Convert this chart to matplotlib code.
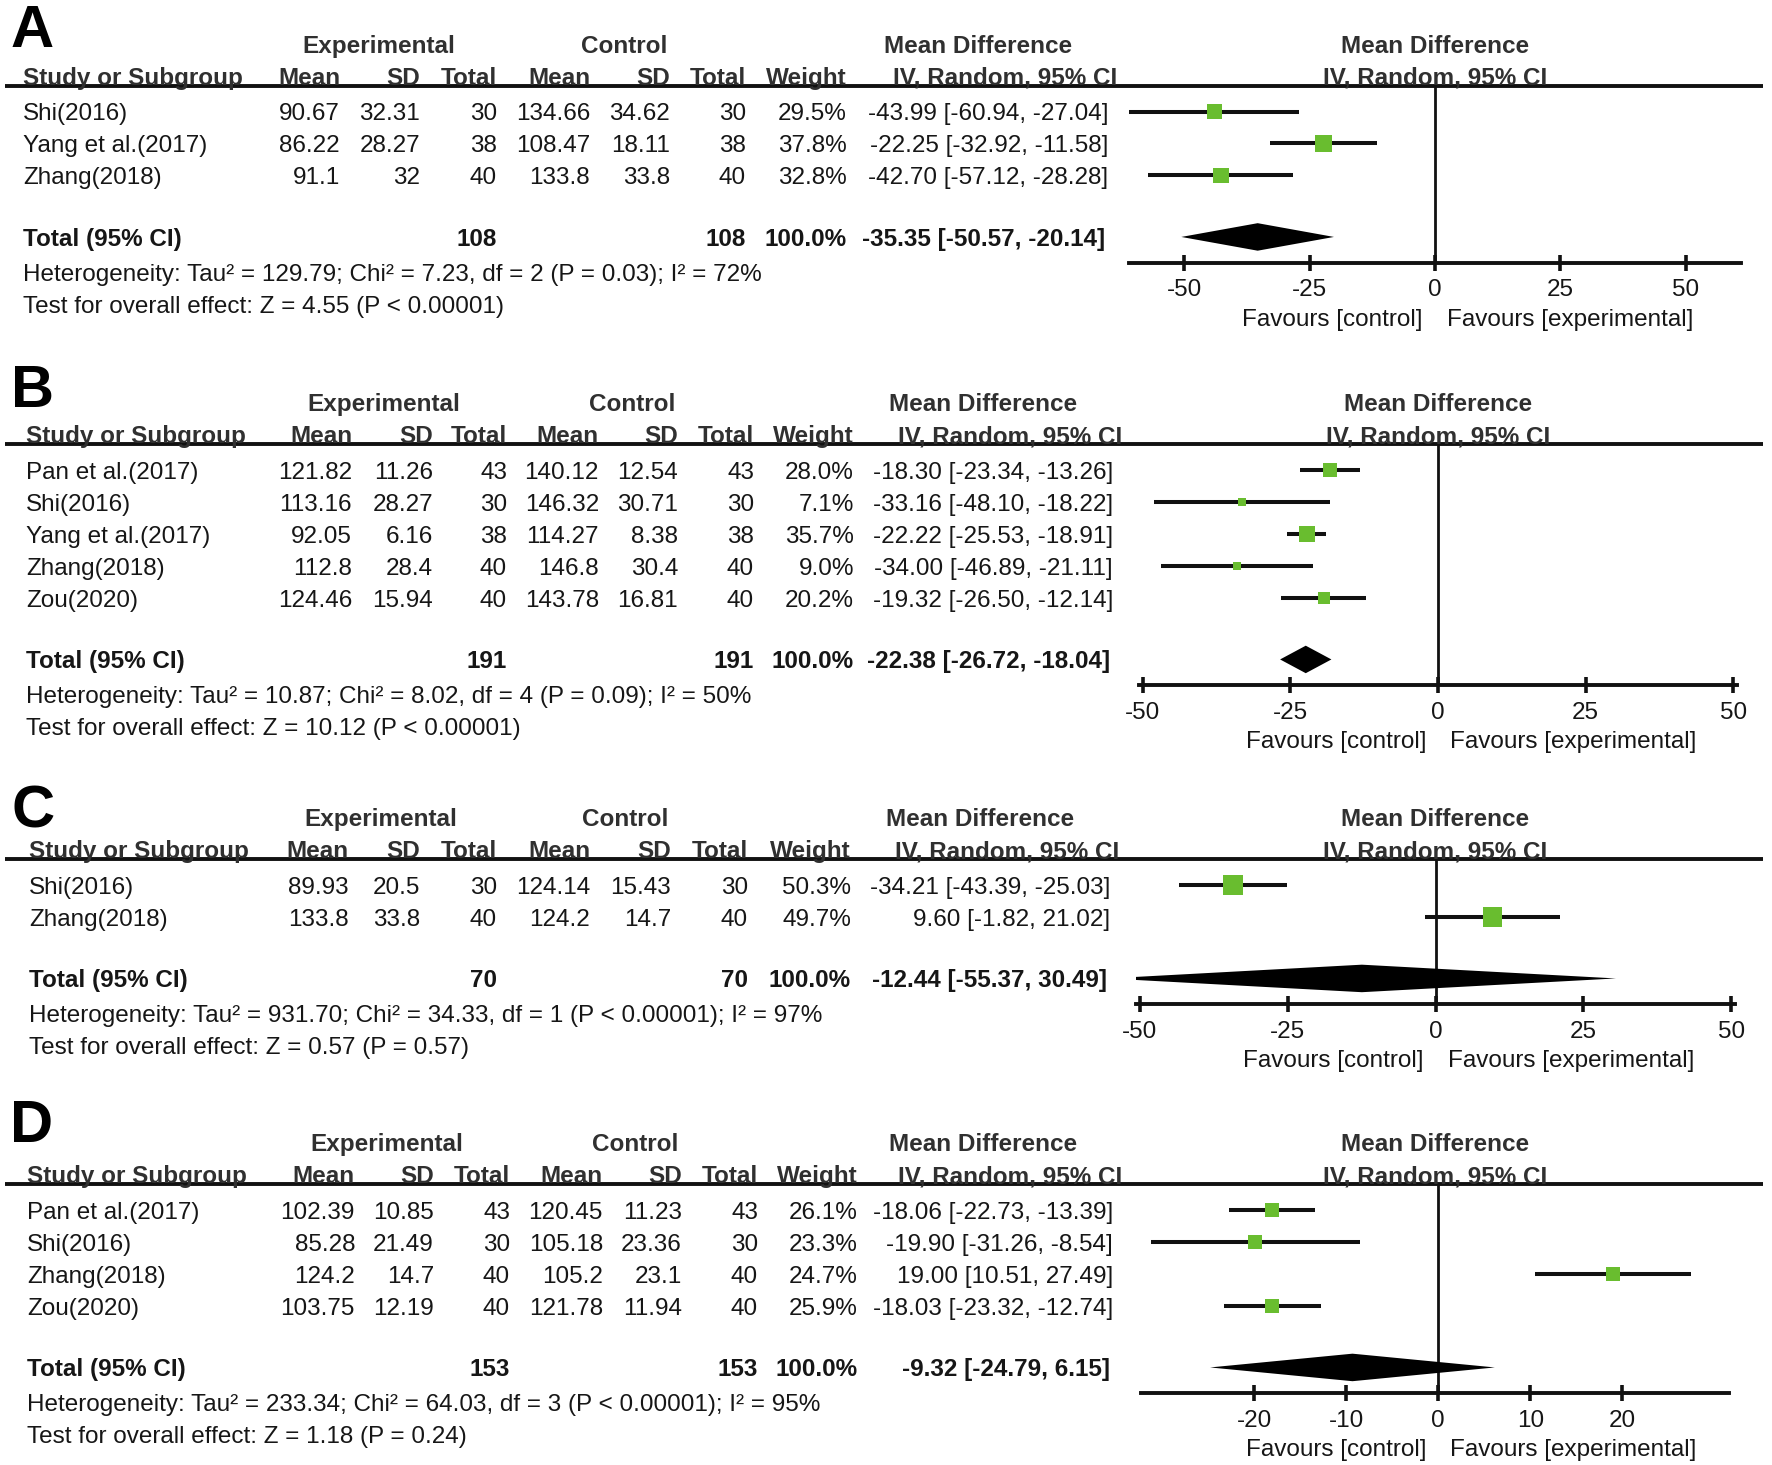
import matplotlib
matplotlib.use("Agg")
import matplotlib.pyplot as plt
from matplotlib.transforms import blended_transform_factory, offset_copy

plt.rcParams['font.family'] = ['Liberation Sans', 'DejaVu Sans']
plt.rcParams['axes.unicode_minus'] = False

# ---------------- data ----------------
# Panel A
studies_A = ["Shi(2016)", "Yang et al.(2017)", "Zhang(2018)"]
exp_mean_A = [90.67, 86.22, 91.1]
exp_sd_A = [32.31, 28.27, 32]
exp_n_A = [30, 38, 40]
ctl_mean_A = [134.66, 108.47, 133.8]
ctl_sd_A = [34.62, 18.11, 33.8]
ctl_n_A = [30, 38, 40]
weight_A = [29.5, 37.8, 32.8]
md_A = [-43.99, -22.25, -42.70]
lo_A = [-60.94, -32.92, -57.12]
hi_A = [-27.04, -11.58, -28.28]
total_A = [108, 108, -35.35, -50.57, -20.14]
het_A = "Heterogeneity: Tau² = 129.79; Chi² = 7.23, df = 2 (P = 0.03); I² = 72%"
test_A = "Test for overall effect: Z = 4.55 (P < 0.00001)"
ticks_A = [-50, -25, 0, 25, 50]

# Panel B
studies_B = ["Pan et al.(2017)", "Shi(2016)", "Yang et al.(2017)", "Zhang(2018)", "Zou(2020)"]
exp_mean_B = [121.82, 113.16, 92.05, 112.8, 124.46]
exp_sd_B = [11.26, 28.27, 6.16, 28.4, 15.94]
exp_n_B = [43, 30, 38, 40, 40]
ctl_mean_B = [140.12, 146.32, 114.27, 146.8, 143.78]
ctl_sd_B = [12.54, 30.71, 8.38, 30.4, 16.81]
ctl_n_B = [43, 30, 38, 40, 40]
weight_B = [28.0, 7.1, 35.7, 9.0, 20.2]
md_B = [-18.30, -33.16, -22.22, -34.00, -19.32]
lo_B = [-23.34, -48.10, -25.53, -46.89, -26.50]
hi_B = [-13.26, -18.22, -18.91, -21.11, -12.14]
total_B = [191, 191, -22.38, -26.72, -18.04]
het_B = "Heterogeneity: Tau² = 10.87; Chi² = 8.02, df = 4 (P = 0.09); I² = 50%"
test_B = "Test for overall effect: Z = 10.12 (P < 0.00001)"
ticks_B = [-50, -25, 0, 25, 50]

# Panel C
studies_C = ["Shi(2016)", "Zhang(2018)"]
exp_mean_C = [89.93, 133.8]
exp_sd_C = [20.5, 33.8]
exp_n_C = [30, 40]
ctl_mean_C = [124.14, 124.2]
ctl_sd_C = [15.43, 14.7]
ctl_n_C = [30, 40]
weight_C = [50.3, 49.7]
md_C = [-34.21, 9.60]
lo_C = [-43.39, -1.82]
hi_C = [-25.03, 21.02]
total_C = [70, 70, -12.44, -55.37, 30.49]
het_C = "Heterogeneity: Tau² = 931.70; Chi² = 34.33, df = 1 (P < 0.00001); I² = 97%"
test_C = "Test for overall effect: Z = 0.57 (P = 0.57)"
ticks_C = [-50, -25, 0, 25, 50]

# Panel D
studies_D = ["Pan et al.(2017)", "Shi(2016)", "Zhang(2018)", "Zou(2020)"]
exp_mean_D = [102.39, 85.28, 124.2, 103.75]
exp_sd_D = [10.85, 21.49, 14.7, 12.19]
exp_n_D = [43, 30, 40, 40]
ctl_mean_D = [120.45, 105.18, 105.2, 121.78]
ctl_sd_D = [11.23, 23.36, 23.1, 11.94]
ctl_n_D = [43, 30, 40, 40]
weight_D = [26.1, 23.3, 24.7, 25.9]
md_D = [-18.06, -19.90, 19.00, -18.03]
lo_D = [-22.73, -31.26, 10.51, -23.32]
hi_D = [-13.39, -8.54, 27.49, -12.74]
total_D = [153, 153, -9.32, -24.79, 6.15]
het_D = "Heterogeneity: Tau² = 233.34; Chi² = 64.03, df = 3 (P < 0.00001); I² = 95%"
test_D = "Test for overall effect: Z = 1.18 (P = 0.24)"
ticks_D = [-20, -10, 0, 10, 20]

panel_letters = ["A", "B", "C", "D"]

panels = [
    dict(studies=studies_A, em=exp_mean_A, es=exp_sd_A, en=exp_n_A, cm=ctl_mean_A, cs=ctl_sd_A,
         cn=ctl_n_A, w=weight_A, md=md_A, lo=lo_A, hi=hi_A, tot=total_A, het=het_A, test=test_A, ticks=ticks_A),
    dict(studies=studies_B, em=exp_mean_B, es=exp_sd_B, en=exp_n_B, cm=ctl_mean_B, cs=ctl_sd_B,
         cn=ctl_n_B, w=weight_B, md=md_B, lo=lo_B, hi=hi_B, tot=total_B, het=het_B, test=test_B, ticks=ticks_B),
    dict(studies=studies_C, em=exp_mean_C, es=exp_sd_C, en=exp_n_C, cm=ctl_mean_C, cs=ctl_sd_C,
         cn=ctl_n_C, w=weight_C, md=md_C, lo=lo_C, hi=hi_C, tot=total_C, het=het_C, test=test_C, ticks=ticks_C),
    dict(studies=studies_D, em=exp_mean_D, es=exp_sd_D, en=exp_n_D, cm=ctl_mean_D, cs=ctl_sd_D,
         cn=ctl_n_D, w=weight_D, md=md_D, lo=lo_D, hi=hi_D, tot=total_D, het=het_D, test=test_D, ticks=ticks_D),
]

# ---------------- layout (pixels) ----------------
W, H, DPI = 1772, 1465, 100
ROW = 32.0
FS = 17.5
TXT = '#161616'
HDR = '#303030'
LINE = '#111111'
GREEN = '#69BD2F'

layouts = [
    dict(row0=111.5, fx=(1129, 1741), xlim=(-61, 61), letter=(11, 47),
         cols=[23, 340, 420, 497, 590, 670, 746, 847, 1108], exp_c=379, ctl_c=624),
    dict(row0=470, fx=(1139, 1737), xlim=(-50.6, 50.6), letter=(11, 407),
         cols=[26, 352, 433, 507, 599, 678, 754, 854, 1113], exp_c=384, ctl_c=632),
    dict(row0=885, fx=(1136, 1735), xlim=(-50.6, 50.6), letter=(12, 828),
         cols=[29, 349, 420, 497, 590, 671, 748, 851, 1110], exp_c=381, ctl_c=625),
    dict(row0=1210, fx=(1141, 1729), xlim=(-32.3, 31.6), letter=(10, 1142),
         cols=[27, 355, 434, 510, 603, 682, 758, 858, 1113], exp_c=387, ctl_c=635),
]

fig = plt.figure(figsize=(W / DPI, H / DPI), dpi=DPI)
BL = 0.27  # baseline offset (rows) below visual centre


def g(v):
    return f"{v:g}"


for letter, P, L in zip(panel_letters, panels, layouts):
    n = len(P['studies'])
    ytot = n - 1 + 1.92
    ytop, ybot = -0.8, ytot + 0.8
    top_px = L['row0'] + ytop * ROW
    bot_px = L['row0'] + ybot * ROW
    x0, x1 = L['fx']
    ax = fig.add_axes([x0 / W, 1 - bot_px / H, (x1 - x0) / W, (bot_px - top_px) / H])
    ax.set_xlim(*L['xlim'])
    ax.set_ylim(ybot, ytop)
    ax.patch.set_alpha(0)
    for s in ['left', 'right', 'top']:
        ax.spines[s].set_visible(False)
    ax.spines['bottom'].set_linewidth(2.8)
    ax.spines['bottom'].set_color(LINE)
    ax.set_yticks([])
    ax.set_xticks(P['ticks'])
    ax.set_xticklabels([str(t) for t in P['ticks']])
    ax.tick_params(axis='x', direction='inout', length=12, width=2.6, color=LINE,
                   labelsize=FS, labelcolor=TXT, pad=6)

    tr = blended_transform_factory(fig.transFigure, ax.transData)
    trax = blended_transform_factory(ax.transAxes, ax.transData)

    def T(px, y, s, ha='right', bold=False, color=TXT, size=FS):
        ax.text(px / W, y + BL, s, transform=tr, ha=ha, va='baseline', fontsize=size,
                fontweight='bold' if bold else 'normal', color=color, clip_on=False)

    c = L['cols']
    # panel letter
    ax.text(L['letter'][0] / W, (L['letter'][1] - L['row0']) / ROW, letter, transform=tr,
            ha='left', va='baseline', fontsize=43, fontweight='bold', color='black')
    # group headers
    T(L['exp_c'], -2.1, "Experimental", ha='center', bold=True, color=HDR)
    T(L['ctl_c'], -2.1, "Control", ha='center', bold=True, color=HDR)
    T(c[8] - 130, -2.1, "Mean Difference", ha='center', bold=True, color=HDR)
    # column headers
    T(c[0], -1.1, "Study or Subgroup", ha='left', bold=True, color=HDR)
    for px, s in zip(c[1:8], ["Mean", "SD", "Total", "Mean", "SD", "Total", "Weight"]):
        T(px, -1.1, s, bold=True, color=HDR)
    T(c[8] + 9, -1.1, "IV, Random, 95% CI", bold=True, color=HDR)
    # right-side headers
    ax.text(0.5, -2.1 + BL, "Mean Difference", transform=trax, ha='center', va='baseline',
            fontsize=FS, fontweight='bold', color=HDR)
    ax.text(0.5, -1.1 + BL, "IV, Random, 95% CI", transform=trax, ha='center',
            va='baseline', fontsize=FS, fontweight='bold', color=HDR)
    # header rule across full width
    ax.plot([5 / W, 1763 / W], [ytop, ytop], transform=tr, clip_on=False, lw=2.8,
            color=LINE, solid_capstyle='butt')

    # study rows
    for i in range(n):
        T(c[0], i, P['studies'][i], ha='left')
        T(c[1], i, g(P['em'][i]))
        T(c[2], i, g(P['es'][i]))
        T(c[3], i, str(P['en'][i]))
        T(c[4], i, g(P['cm'][i]))
        T(c[5], i, g(P['cs'][i]))
        T(c[6], i, str(P['cn'][i]))
        T(c[7], i, f"{P['w'][i]:.1f}%")
        T(c[8], i, f"{P['md'][i]:.2f} [{P['lo'][i]:.2f}, {P['hi'][i]:.2f}]")

    # total row
    tn_e, tn_c, t_md, t_lo, t_hi = P['tot']
    T(c[0], ytot, "Total (95% CI)", ha='left', bold=True)
    T(c[3], ytot, str(tn_e), bold=True)
    T(c[6], ytot, str(tn_c), bold=True)
    T(c[7], ytot, "100.0%", bold=True)
    T(c[8] - 3, ytot, f"{t_md:.2f} [{t_lo:.2f}, {t_hi:.2f}]", bold=True)
    T(c[0], ytot + 1.1, P['het'], ha='left')
    T(c[0], ytot + 2.1, P['test'], ha='left')

    # forest marks
    ax.axvline(0, color=LINE, lw=2.0, zorder=2)
    ys = list(range(n))
    ax.hlines(ys, P['lo'], P['hi'], color=LINE, lw=2.9, zorder=3)
    ax.scatter(P['md'], ys, s=[3.9 * w for w in P['w']], marker='s', color=GREEN,
               linewidths=0, zorder=4)
    h = 0.43
    ax.fill([t_lo, t_md, t_hi, t_md], [ytot, ytot - h, ytot, ytot + h], color='black',
            lw=0, zorder=3)

    # favours labels
    yf = ybot + 1.70 + BL
    ax.text(0, yf, "Favours [control]", transform=offset_copy(ax.transData, fig=fig, x=-12, y=0, units='dots'),
            ha='right', va='baseline', fontsize=FS, color=TXT, clip_on=False)
    ax.text(0, yf, "Favours [experimental]", transform=offset_copy(ax.transData, fig=fig, x=12, y=0, units='dots'),
            ha='left', va='baseline', fontsize=FS, color=TXT, clip_on=False)

fig.savefig("out.png", dpi=DPI, facecolor='white')
